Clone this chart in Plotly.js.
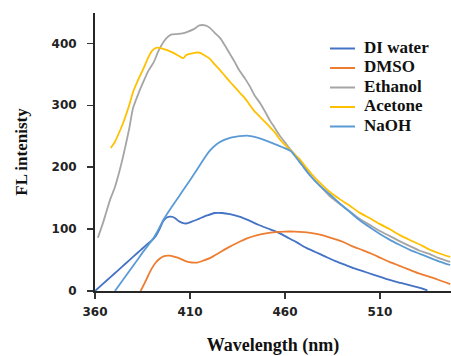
<!DOCTYPE html>
<html>
<head>
<meta charset="utf-8">
<script src="https://cdn.plot.ly/plotly-3.0.1.min.js"></script>
<style>
html, body { margin: 0; padding: 0; background: #fff; overflow: hidden; }
#chart { width: 451px; height: 356px; }
</style>
</head>
<body>
<div id="chart"></div>
<script>
// ---- data ----
const seriesNames = ["DI water", "DMSO", "Ethanol", "Acetone", "NaOH"];

const wlDI = [360, 364, 368, 372, 376, 380, 384, 388, 390, 392, 394, 396, 398, 400, 402, 404, 406, 408, 411, 415, 419, 423, 427, 431, 436, 441, 446, 451, 456, 461, 466, 471, 476, 481, 486, 491, 496, 501, 506, 511, 516, 521, 526, 531, 535];
const diWater = [0, 11, 22, 33, 44, 55, 66, 77, 82, 89, 100, 113, 119, 120, 118, 113, 110, 109, 112, 117, 122, 126, 126, 124, 120, 114, 107, 101, 95, 87, 79, 70, 63, 56, 49, 43, 37, 32, 27, 22, 17, 13, 9, 5, 1];

const wlDMSO = [384, 386, 388, 390, 392, 394, 396, 399, 402, 405, 408, 411, 414, 417, 421, 425, 430, 435, 440, 445, 450, 455, 460, 465, 470, 475, 480, 485, 490, 495, 500, 505, 510, 515, 520, 525, 530, 535, 540, 547];
const dmso = [0, 12, 25, 37, 46, 52, 56, 57, 55, 52, 48, 46, 46, 49, 54, 61, 70, 78, 85, 90, 93, 95, 96, 96, 95, 93, 90, 85, 80, 73, 67, 61, 54, 47, 41, 35, 29, 24, 19, 11];

const wlEthanol = [361.5, 364, 366, 368, 370.5, 373, 375, 378, 380, 383, 385.5, 388, 391, 393, 395, 397.5, 400, 403, 406, 409, 412, 415, 418, 420.5, 423, 426, 428.5, 431, 433.5, 436, 439, 441.6, 444, 447, 449.5, 452, 454.5, 457, 460, 463, 466, 468, 471, 474, 479, 484, 489, 494, 499, 505, 510, 515, 520, 526, 531, 536, 541, 547];
const ethanol = [86, 108, 128, 148, 168, 195, 220, 262, 295, 320, 338, 355, 370, 385, 397, 408, 414, 415, 416, 419, 423, 429, 429, 425, 417, 408, 396, 383, 370, 356, 343, 330, 316, 303, 290, 276, 264, 252, 240, 228, 217, 210, 197, 185, 168, 152, 140, 129, 117, 106, 97, 89, 81, 72, 65, 60, 53, 47];

const wlAcetone = [368.3, 370.5, 373, 375, 378, 380, 383, 385.5, 388, 390, 392.5, 395, 398, 401, 404, 406.5, 408, 410, 413, 415, 418, 420.5, 423, 426, 428.5, 431, 434, 436, 439, 441.6, 444, 447, 449.5, 452, 455, 457, 460, 463, 466, 468, 471, 474, 479, 484, 489, 494, 499, 505, 510, 515, 520, 526, 531, 536, 541, 547];
const acetone = [231, 241, 258, 273, 300, 321, 343, 359, 377, 388, 393, 392, 389, 385, 380, 376, 381, 383, 385, 385, 380, 375, 366, 356, 347, 338, 328, 321, 311, 300, 290, 281, 273, 265, 255, 246, 236, 227, 218, 212, 200, 189, 173, 159, 148, 138, 127, 117, 108, 100, 91, 82, 75, 67, 61, 55];

const wlNaOH = [370.5, 374, 378, 382, 386, 390, 393, 396, 400, 404, 408, 412, 416, 420, 424, 428, 432, 436, 440, 445, 450, 454, 458, 463, 466, 469, 473, 478, 484, 489, 494, 499, 505, 510, 515, 520, 526, 531, 536, 541, 547];
const naoh = [0, 15, 32, 49, 66, 82, 97, 115, 134, 152, 170, 188, 207, 225, 237, 244, 248, 250, 251, 248, 243, 238, 233, 226, 215, 203, 187, 171, 155, 141, 128, 115, 102, 92, 83, 75, 66, 60, 54, 48, 42];

const colors = ["#4472C4", "#ED7D31", "#A5A5A5", "#FFC000", "#5B9BD5"];
const xTickVals = [360, 410, 460, 510];
const yTickVals = [0, 100, 200, 300, 400];

// ---- layout constants (pixels of the 451x356 canvas) ----
const W = 451, H = 356;
const M = { l: 95, r: 0, t: 13, b: 65 };
const plotW = W - M.l - M.r, plotH = H - M.t - M.b;
const legendTopPx = 48.5, legendRowStep = 19.5;
const legendLineX0 = 330, legendLineX1 = 355, legendTextX = 363;
const px2paperX = px => (px - M.l) / plotW;
const px2paperY = py => (H - M.b - py) / plotH;

// ---- build traces ----
const xs = [wlDI, wlDMSO, wlEthanol, wlAcetone, wlNaOH];
const ys = [diWater, dmso, ethanol, acetone, naoh];
const traces = seriesNames.map((name, i) => ({
  type: "scatter",
  mode: "lines",
  name: name,
  x: xs[i],
  y: ys[i],
  line: { color: colors[i], width: 1.8, shape: "spline", smoothing: 0.6 },
  cliponaxis: true
}));

// legend drawn as shapes + annotations (to reproduce the compact row spacing)
const legendFont = { family: "Liberation Serif, Times New Roman, serif", size: 17, weight: "bold", color: "#111" };
const rowY = i => legendTopPx + i * legendRowStep;
const shapes = seriesNames.map((name, i) => ({
  type: "line", xref: "paper", yref: "paper",
  x0: px2paperX(legendLineX0), x1: px2paperX(legendLineX1),
  y0: px2paperY(rowY(i)), y1: px2paperY(rowY(i)),
  line: { color: colors[i], width: 2 }
}));
const annotations = seriesNames.map((name, i) => ({
  xref: "paper", yref: "paper",
  x: px2paperX(legendTextX), y: px2paperY(rowY(i) - 1.5),
  xanchor: "left", yanchor: "middle",
  text: name, showarrow: false, font: legendFont, borderpad: 0
}));

const tickFont = { family: "DejaVu Sans, Verdana, sans-serif", size: 12, weight: "bold", color: "#222" };
const titleFont = { family: "Liberation Serif, Times New Roman, serif", size: 17, weight: "bold", color: "#111" };

const layout = {
  width: W,
  height: H,
  margin: { l: M.l, r: M.r, t: M.t, b: M.b, pad: 0 },
  paper_bgcolor: "#ffffff",
  plot_bgcolor: "#ffffff",
  showlegend: false,
  shapes: shapes,
  annotations: annotations,
  xaxis: {
    range: [360, 547.4],
    tickvals: xTickVals,
    ticktext: xTickVals.map(String),
    ticks: "outside",
    ticklen: 6,
    tickwidth: 1.5,
    tickcolor: "#333",
    ticklabelstandoff: 3,
    showline: true,
    linecolor: "#262626",
    linewidth: 2,
    showgrid: false,
    zeroline: false,
    tickfont: tickFont,
    automargin: false,
    title: { text: "Wavelength (nm)", font: Object.assign({}, titleFont, { size: 18 }), standoff: 34 }
  },
  yaxis: {
    range: [0, 449],
    tickvals: yTickVals,
    ticktext: yTickVals.map(String),
    ticks: "outside",
    ticklen: 6,
    tickwidth: 1.5,
    tickcolor: "#333",
    ticklabelstandoff: 8,
    showline: true,
    linecolor: "#262626",
    linewidth: 2,
    showgrid: false,
    zeroline: false,
    tickfont: tickFont,
    automargin: false,
    title: { text: "FL intenisty", font: titleFont, standoff: 20 }
  }
};

Plotly.newPlot("chart", traces, layout, { displayModeBar: false, staticPlot: true });
</script>
</body>
</html>
